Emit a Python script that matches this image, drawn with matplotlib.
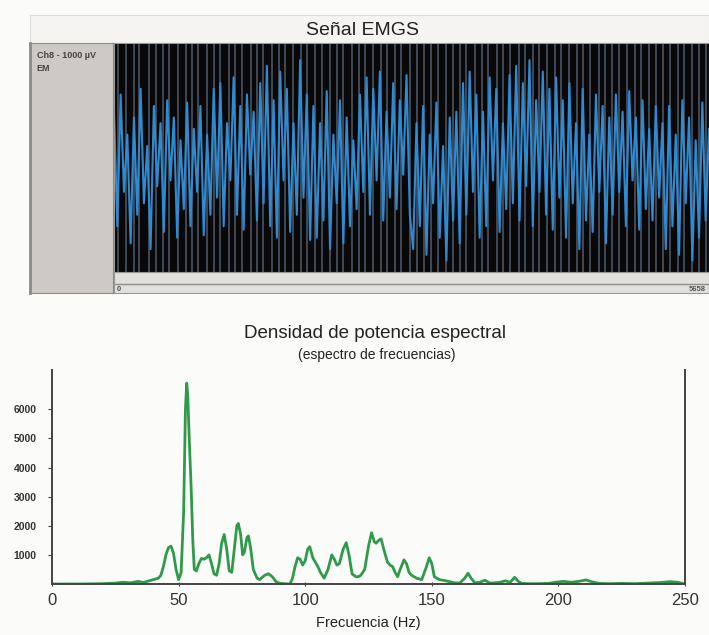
import matplotlib.pyplot as plt
import numpy as np

plt.rcParams['font.family'] = ['Liberation Sans', 'DejaVu Sans']

# --- señal EMG (µV), leída aprox. del registro ---
n_muestras = 5658
senal = [400, -600, 550, -300, 200, -750, 350, -500, 600, -400, 100, -800, 450, -250, 300,
         -650, 500, -200, 350, -700, 150, -450, 480, -600, 250, -300, 450, -680, 200, -500,
         600, -350, 650, -600, 300, -200, 700, -500, 450, -630, 550, -150, 400, -550, 650,
         -400, 800, -600, 500, -700, 750, -200, 600, -650, 300, -500, 850, -350, 550, -720,
         450, -700, 300, -550, 580, -800, 200, -400, 500, -750, 350, -600, 150, -450, 550,
         -300, 700, -500, 600, -200, 750, -550, 400, -350, 650, -450, 500, -150, 720, -500,
         -800, 300, -600, 450, -850, 200, -400, 480, -700, 100, -900, 350, -550, 400, -750,
         650, -500, 750, -300, 550, -700, 400, -600, 700, -200, 600, -650, 300, -450, 720,
         -400, 800, -550, 650, -250, 850, -600, 500, -300, 750, -500, 600, -630, 700, -350,
         500, -700, 650, -400, 300, -800, 600, -550, 200, -650, 550, -300, 450, -750, 350,
         -500, 550, -300, 400, -600, 580, -200, 350, -630, 500, -450, 250, -550, 450, -350,
         300, -800, 450, -600, 200, -850, 500, -400, 350, -900, 150, -700, 480, -550, 250]
# picos saturados (líneas grises de altura completa), en número de muestra
picos = [40, 110, 190, 240, 330, 400, 470, 520, 610, 680, 745, 800, 880, 950, 1010,
         1090, 1150, 1220, 1300, 1360, 1420, 1500, 1570, 1630, 1700, 1780, 1840, 1910,
         1980, 2050, 2120, 2180, 2260, 2330, 2390, 2460, 2540, 2600, 2670, 2730, 2810,
         2880, 2950, 3010, 3080, 3160, 3220, 3290, 3350, 3430, 3500, 3560, 3640, 3700,
         3770, 3850, 3910, 3980, 4040, 4120, 4190, 4250, 4330, 4400, 4460, 4530, 4610,
         4670, 4740, 4800, 4880, 4950, 5010, 5090, 5150, 5220, 5290, 5360, 5420, 5500,
         5560, 5630]

# --- densidad espectral ---
frec = [0, 10, 20, 25, 28, 31, 34, 36, 38, 40, 42, 43, 44, 45, 46, 47, 48, 49, 50, 51, 52,
        52.7, 53.2, 53.6, 54.2, 55, 55.6, 56.2, 57, 58, 59, 60, 61, 62, 63, 64, 65, 66, 67,
        68, 69, 70, 71, 72, 73, 73.6, 74.5, 75.3, 76, 77, 77.6, 78.5, 79.5, 81, 82, 84, 85.5,
        87, 88.5, 90, 92, 94, 95, 96, 97, 98, 99, 100, 101, 101.8, 103, 104, 105, 106, 107.5,
        109, 110.5, 111.5, 112.5, 113.5, 115, 116.2, 117.3, 118.5, 120, 121, 122, 123.5, 125,
        126.2, 127.3, 128, 129, 130, 131, 132.5, 133.5, 134.5, 135.5, 136.5, 137.5, 139, 140,
        141, 142, 144, 146, 147.5, 149, 150, 151, 153, 155, 157, 159, 161, 163, 164.3, 165.5,
        167, 169, 171, 173, 175, 177, 179, 181, 182.7, 184, 185.5, 188, 192, 196, 199, 202,
        205, 208, 211, 213, 216, 220, 225, 230, 235, 240, 244, 247, 250]
potencia = [0, 0, 10, 30, 60, 40, 90, 50, 100, 150, 200, 300, 600, 1000, 1250, 1300, 1050,
            500, 150, 400, 2500, 6000, 6900, 6500, 5000, 3200, 1500, 500, 450, 700, 880, 850,
            900, 1000, 700, 350, 300, 700, 1400, 1700, 1200, 450, 400, 1200, 2000, 2080, 1700,
            1000, 1100, 1600, 1650, 1200, 500, 200, 150, 300, 350, 250, 80, 20, 10, 0, 200,
            600, 900, 850, 650, 800, 1200, 1280, 900, 750, 600, 400, 200, 500, 1000, 850, 650,
            700, 1200, 1420, 1000, 350, 250, 250, 300, 500, 1300, 1760, 1450, 1400, 1500, 1550,
            1200, 750, 650, 600, 400, 250, 500, 830, 700, 400, 300, 200, 150, 500, 900, 700,
            250, 150, 120, 80, 40, 30, 200, 370, 200, 40, 60, 130, 30, 40, 60, 110, 60, 230,
            100, 20, 10, 10, 20, 60, 90, 60, 90, 140, 80, 20, 10, 20, 10, 30, 50, 80, 60, 0]
xticks = [0, 50, 100, 150, 200, 250]
yticks = [1000, 2000, 3000, 4000, 5000, 6000]

W, H = 709, 635
fig = plt.figure(figsize=(W / 100, H / 100), dpi=100, facecolor='#fbfbfa')

def caja(x0, y0, x1, y1, color, borde=None):
    # caja en píxeles (origen arriba a la izquierda)
    a = fig.add_axes([x0 / W, 1 - y1 / H, (x1 - x0) / W, (y1 - y0) / H])
    a.set_facecolor(color)
    a.set_xticks([])
    a.set_yticks([])
    for s in a.spines.values():
        if borde:
            s.set_color(borde)
            s.set_linewidth(0.8)
        else:
            s.set_visible(False)
    return a

# ----- panel superior -----
cab = caja(30, 15, 709, 43, '#f5f4f2', '#e0deda')
cab.text(0.49, 0.45, 'Señal EMGS', ha='center', va='center', fontsize=14, color='#222222')

izq = caja(30, 43, 113, 293, '#cdc9c4', '#8d8a86')
izq.spines['left'].set_linewidth(2)
izq.text(0.08, 0.97, 'Ch8 - 1000 µV', fontsize=6.5, fontweight='bold', color='#444444', va='top')
izq.text(0.08, 0.915, 'EM', fontsize=6.5, fontweight='bold', color='#444444', va='top')

barra = caja(114, 272, 709, 293, '#e2e0dc', '#9a9894')
barra.axhline(0.45, color='#8f8d89', lw=1)
barra.text(0.004, 0.02, '0', fontsize=5.5, fontweight='bold', color='#555555', va='bottom')
barra.text(0.995, 0.02, str(n_muestras), fontsize=5.5, fontweight='bold', color='#555555',
           va='bottom', ha='right')

ax1 = fig.add_axes([114 / W, 1 - 272 / H, 595 / W, 229 / H])
ax1.set_facecolor('#080808')
t = np.linspace(0, n_muestras, len(senal))
ax1.vlines(picos, -1000, 1000, color='#66748a', lw=1.2, alpha=0.7)
ax1.plot(t, senal, color='#2f8ad0', lw=1.5)
ax1.set_xlim(0, n_muestras)
ax1.set_ylim(-1000, 1000)
ax1.set_xticks([])
ax1.set_yticks([])
for s in ax1.spines.values():
    s.set_color('#9a9894')

# ----- panel inferior -----
ax2 = fig.add_axes([52 / W, 1 - 584 / H, 633 / W, 214 / H])
ax2.set_facecolor('#fbfbfa')
ax2.plot(frec, potencia, color='#2f9a4a', lw=2)
ax2.set_xlim(0, 250)
ax2.set_ylim(0, 7350)
ax2.set_xticks(xticks)
ax2.set_xticklabels([str(v) for v in xticks], fontsize=12, color='#333333')
ax2.set_yticks(yticks)
ax2.set_yticklabels([str(v) for v in yticks], fontsize=7.5, fontweight='bold', color='#333333')
ax2.tick_params(axis='x', length=3, direction='inout', pad=5, color='#444444')
ax2.tick_params(axis='y', length=3, direction='out', pad=8, color='#444444')
ax2.spines['top'].set_visible(False)
for s in ['left', 'right', 'bottom']:
    ax2.spines[s].set_color('#444444')
    ax2.spines[s].set_linewidth(1.4)
ax2.set_xlabel('Frecuencia (Hz)', fontsize=10.5, color='#222222', labelpad=6)

fig.text(375 / W, 1 - 333 / H, 'Densidad de potencia espectral', ha='center', va='center',
         fontsize=13.5, color='#222222')
fig.text(377 / W, 1 - 355 / H, '(espectro de frecuencias)', ha='center', va='center',
         fontsize=10, color='#222222')

fig.savefig('out.png', dpi=100, facecolor=fig.get_facecolor())
